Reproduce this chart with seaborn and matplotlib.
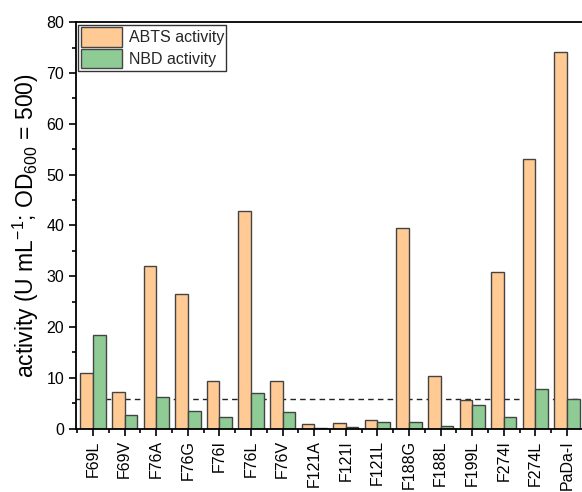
import matplotlib
matplotlib.use("Agg")
import matplotlib.pyplot as plt
import seaborn as sns
import pandas as pd
from matplotlib.ticker import MultipleLocator, FixedLocator

categories = ["F69L", "F69V", "F76A", "F76G", "F76I", "F76L", "F76V", "F121A",
              "F121I", "F121L", "F188G", "F188L", "F199L", "F274I", "F274L", "PaDa-I"]
abts = [10.9, 7.2, 32.0, 26.4, 9.35, 42.8, 9.3, 0.95, 1.0, 1.7, 39.4, 10.3, 5.6, 30.8, 53.1, 74.2]
nbd = [18.4, 2.7, 6.3, 3.5, 2.2, 6.9, 3.2, 0.2, 0.4, 1.2, 1.2, 0.55, 4.6, 2.3, 7.7, 5.75]
series_names = ["ABTS activity", "NBD activity"]
threshold = 5.75

sns.set_theme(style="ticks")
plt.rcParams['font.family'] = ['Liberation Sans', 'DejaVu Sans']
plt.rcParams['mathtext.fontset'] = 'custom'
plt.rcParams['mathtext.rm'] = 'Liberation Sans'
plt.rcParams['mathtext.it'] = 'Liberation Sans:italic'
plt.rcParams['mathtext.bf'] = 'Liberation Sans:bold'

df = pd.DataFrame({
    "variant": categories * 2,
    "activity": abts + nbd,
    "assay": [series_names[0]] * len(categories) + [series_names[1]] * len(categories),
})

fig = plt.figure(figsize=(5.82, 4.92), dpi=100)
ax = fig.add_axes([0.1306, 0.129, 0.873, 0.8257])

sns.barplot(data=df, x="variant", y="activity", hue="assay", order=categories,
            hue_order=series_names, palette=["#FFCA94", "#8FCC95"], width=0.8,
            edgecolor="#444444", linewidth=1.0, saturation=1, ax=ax)

ax.axhline(threshold, color="#222222", linestyle=(0, (4, 3)), linewidth=1.0, zorder=0.5)

ax.set_ylim(0, 80)
ax.set_xlim(-0.54, 15.54)
ax.yaxis.set_major_locator(MultipleLocator(10))
ax.yaxis.set_minor_locator(MultipleLocator(5))
ax.xaxis.set_minor_locator(FixedLocator([i + 0.5 for i in range(-1, 16)]))

ax.tick_params(axis="both", which="major", direction="out", length=5, width=1.2,
               color="black", labelsize=11.5, labelcolor="black")
ax.tick_params(axis="both", which="minor", direction="out", length=3, width=1.2, color="black")
ax.tick_params(axis="x", labelrotation=90)

for s in ["left", "bottom", "top"]:
    ax.spines[s].set_visible(True)
    ax.spines[s].set_color("black")
    ax.spines[s].set_linewidth(1.3)
ax.spines["right"].set_visible(False)

ax.set_xlabel("")
ax.set_ylabel("activity (U mL$^{\\mathregular{-1}}$; OD$_{\\mathregular{600}}$ = 500)",
              fontsize=16.5, color="black", labelpad=4)

leg = ax.legend(loc="upper left", bbox_to_anchor=(0.0, 1.0), frameon=True, fancybox=False,
                fontsize=11.5, borderaxespad=0.15, handlelength=2.6, handleheight=1.5,
                handletextpad=0.4, borderpad=0.15, labelspacing=0.15)
leg.get_frame().set_edgecolor("black")
leg.get_frame().set_linewidth(1.0)

fig.savefig("out.png", dpi=100)
